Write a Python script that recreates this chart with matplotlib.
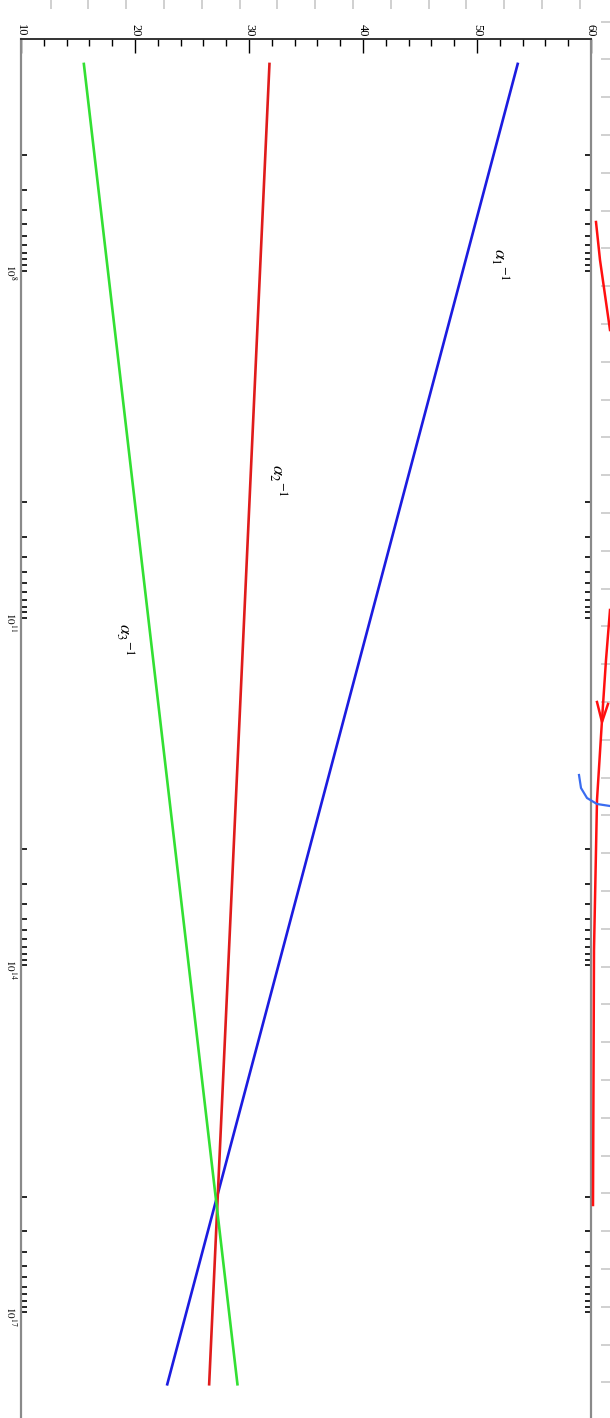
import numpy as np
import matplotlib
matplotlib.use('Agg')
import matplotlib.pyplot as plt
from matplotlib.ticker import FixedLocator, MultipleLocator, NullFormatter

# Running inverse gauge couplings (chart is drawn rotated: energy runs downward)
energy_gev = [1.6e6, 4.3e17]
alpha1_inv = [53.6, 22.8]
alpha2_inv = [31.8, 26.5]
alpha3_inv = [15.5, 29.0]

series_labels = [r'$\alpha_1{}^{-1}$', r'$\alpha_2{}^{-1}$', r'$\alpha_3{}^{-1}$']
series_colors = ['#1c1ce0', '#e01c1c', '#33e033']
label_pos = [(52.0, 8.9e7), (32.5, 6.5e9), (19.1, 1.55e11)]

value_ticks = [10, 20, 30, 40, 50, 60]
energy_major = [1e8, 1e11, 1e14, 1e17]
energy_labels = [r'$10^{8}$', r'$10^{11}$', r'$10^{14}$', r'$10^{17}$']

# hand-drawn pen marks on the page (pixel coordinates of the page)
red_stroke_a = ([596, 600, 605, 610], [222, 260, 295, 330])
red_stroke_b = ([610, 606, 602, 597, 594, 593], [610, 660, 720, 800, 950, 1205])
red_arrow = ([597, 602, 608], [702, 722, 704])
blue_arc = ([579, 581, 587, 597, 610], [775, 788, 798, 804, 806])

plt.rcParams['mathtext.fontset'] = 'stix'
plt.rcParams['font.family'] = 'Liberation Serif'

fig = plt.figure(figsize=(6.1, 14.18), dpi=100)

# page ruler marks behind the plot
page = fig.add_axes([0, 0, 1, 1], zorder=0)
page.set_xlim(0, 610)
page.set_ylim(1418, 0)
page.axis('off')
page.vlines(np.arange(50.6, 600, 37.8), 0, 9, color='#c8c8c8', lw=1.2)
page.hlines(np.arange(21.6, 1418, 37.8), 601, 610, color='#c8c8c8', lw=1.2)

ax = fig.add_axes([21 / 610, -10 / 1418, 570 / 610, 1389 / 1418], zorder=1)
ax.patch.set_alpha(0)

for vals, col in zip([alpha1_inv, alpha2_inv, alpha3_inv], series_colors):
    ax.plot(vals, energy_gev, color=col, lw=1.9, solid_capstyle='butt')

for txt, (xv, yv) in zip(series_labels, label_pos):
    ax.text(xv, yv, txt, rotation=-90, ha='center', va='center', fontsize=13)

ax.set_yscale('log')
ax.set_xlim(10, 60)
ax.set_ylim(1e18, 1e6)

ax.xaxis.tick_top()
ax.set_xticks(value_ticks)
ax.set_xticklabels([str(v) for v in value_ticks], rotation=-90, fontsize=9)
ax.xaxis.set_minor_locator(MultipleLocator(2))

minor = [k * m / 10 for m in energy_major for k in range(1, 10)]
ax.yaxis.set_major_locator(FixedLocator(energy_major))
ax.yaxis.set_minor_locator(FixedLocator(minor))
ax.yaxis.set_minor_formatter(NullFormatter())
ax.set_yticklabels(energy_labels, rotation=-90, fontsize=8)

ax.tick_params(axis='x', which='major', direction='in', length=10, width=1, pad=2, top=True, bottom=False)
ax.tick_params(axis='x', which='minor', direction='in', length=5, width=1, top=True, bottom=False)
ax.tick_params(axis='y', which='both', direction='in', length=4, width=1.2, pad=2, left=True, right=True)

for side in ['left', 'right']:
    ax.spines[side].set_color('#8a8a8a')
    ax.spines[side].set_linewidth(1.6)
ax.spines['top'].set_color('#333333')
ax.spines['top'].set_linewidth(1.4)

# pen marks drawn over the page edge
over = fig.add_axes([0, 0, 1, 1], zorder=2)
over.set_xlim(0, 610)
over.set_ylim(1418, 0)
over.axis('off')
over.patch.set_alpha(0)
for xs, ys in [red_stroke_a, red_stroke_b, red_arrow]:
    over.plot(xs, ys, color='#ff1010', lw=1.8)
over.plot(*blue_arc, color='#3a6cf0', lw=1.6)

fig.savefig('out.png', dpi=100, facecolor='white')
